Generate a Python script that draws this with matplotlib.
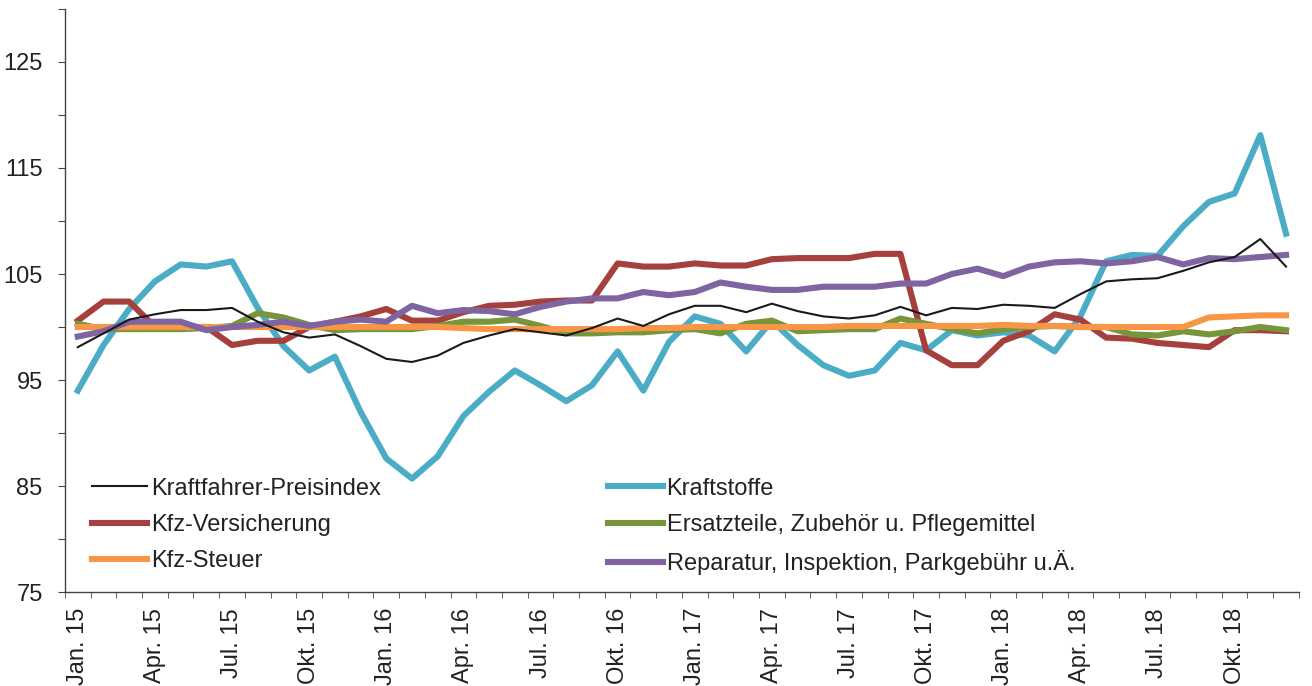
import matplotlib
matplotlib.use("Agg")
import matplotlib.pyplot as plt
import numpy as np

# Monthly index values, Jan 2015 - Dec 2018
month_names = ["Jan.", "Feb.", "Mär.", "Apr.", "Mai", "Jun.", "Jul.", "Aug.", "Sep.", "Okt.", "Nov.", "Dez."]
years = ["15", "16", "17", "18"]
months = [f"{m} {y}" for y in years for m in month_names]

preisindex = [98.1, 99.4, 100.7, 101.2, 101.6, 101.6, 101.8, 100.5, 99.5, 99.0, 99.3, 98.2,
              97.0, 96.7, 97.3, 98.5, 99.2, 99.8, 99.5, 99.2, 99.9, 100.8, 100.1, 101.2,
              102.0, 102.0, 101.4, 102.2, 101.5, 101.0, 100.8, 101.1, 101.9, 101.1, 101.8, 101.7,
              102.1, 102.0, 101.8, 103.1, 104.3, 104.5, 104.6, 105.3, 106.1, 106.6, 108.3, 105.7]
kraftstoffe = [94.0, 98.3, 101.7, 104.3, 105.9, 105.7, 106.2, 101.8, 98.2, 95.9, 97.2, 92.0,
               87.6, 85.7, 87.8, 91.6, 93.9, 95.9, 94.5, 93.0, 94.5, 97.7, 94.0, 98.6,
               101.0, 100.3, 97.7, 100.6, 98.3, 96.4, 95.4, 95.9, 98.5, 97.8, 99.7, 99.2,
               99.5, 99.2, 97.7, 101.0, 106.2, 106.8, 106.7, 109.5, 111.8, 112.6, 118.1, 108.8]
versicherung = [100.6, 102.4, 102.4, 100.0, 100.0, 100.0, 98.3, 98.7, 98.7, 100.0, 100.5, 101.0,
                101.7, 100.6, 100.6, 101.4, 102.0, 102.1, 102.4, 102.5, 102.5, 106.0, 105.7, 105.7,
                106.0, 105.8, 105.8, 106.4, 106.5, 106.5, 106.5, 106.9, 106.9, 97.8, 96.4, 96.4,
                98.7, 99.6, 101.2, 100.7, 99.0, 98.9, 98.5, 98.3, 98.1, 99.7, 99.7, 99.6]
ersatzteile = [100.3, 99.8, 99.8, 99.8, 99.8, 99.9, 100.1, 101.3, 100.9, 100.2, 99.7, 99.8,
               99.8, 99.8, 100.1, 100.5, 100.5, 100.7, 100.1, 99.4, 99.4, 99.5, 99.5, 99.7,
               99.8, 99.4, 100.3, 100.6, 99.6, 99.7, 99.8, 99.8, 100.8, 100.3, 99.8, 99.4,
               99.8, 100.0, 100.1, 100.0, 100.0, 99.3, 99.2, 99.6, 99.3, 99.6, 100.0, 99.7]
steuer = [100.0, 100.0, 100.0, 100.0, 100.0, 100.0, 100.0, 100.0, 100.0, 100.0, 100.0, 100.0,
          100.0, 100.0, 100.0, 99.9, 99.8, 99.8, 99.8, 99.8, 99.8, 99.8, 99.9, 99.9,
          100.0, 100.0, 100.0, 100.0, 100.0, 100.0, 100.1, 100.1, 100.1, 100.1, 100.1, 100.1,
          100.2, 100.1, 100.1, 100.0, 100.0, 100.0, 100.0, 100.0, 100.9, 101.0, 101.1, 101.1]
reparatur = [99.1, 99.6, 100.5, 100.5, 100.5, 99.7, 100.0, 100.2, 100.5, 100.1, 100.5, 100.7,
             100.5, 102.0, 101.3, 101.6, 101.5, 101.2, 101.9, 102.4, 102.7, 102.7, 103.3, 103.0,
             103.3, 104.2, 103.8, 103.5, 103.5, 103.8, 103.8, 103.8, 104.1, 104.1, 105.0, 105.5,
             104.8, 105.7, 106.1, 106.2, 106.0, 106.2, 106.6, 105.9, 106.5, 106.4, 106.6, 106.8]

plt.rcParams["font.family"] = ["Liberation Sans", "DejaVu Sans"]
plt.rcParams["font.size"] = 17

TEXT = "#222222"
AXIS = "#444444"

fig = plt.figure(figsize=(13.12, 6.86), dpi=100)
ax = fig.add_axes([0.0495, 0.137, 0.9405, 0.8499])

x = np.arange(len(months))
wide = 4.4
ax.plot(x, preisindex, color="#1a1a1a", lw=1.5, label="Kraftfahrer-Preisindex", zorder=6)
ax.plot(x, kraftstoffe, color="#4BACC6", lw=wide, label="Kraftstoffe", zorder=2)
ax.plot(x, versicherung, color="#A5403D", lw=wide, label="Kfz-Versicherung", zorder=3)
ax.plot(x, ersatzteile, color="#77953A", lw=wide, label="Ersatzteile, Zubehör u. Pflegemittel", zorder=4)
ax.plot(x, steuer, color="#F79646", lw=wide, label="Kfz-Steuer", zorder=5)
ax.plot(x, reparatur, color="#8064A2", lw=wide, label="Reparatur, Inspektion, Parkgebühr u.Ä.", zorder=5)

ax.set_xlim(-0.5, len(months) - 0.5)
ax.set_ylim(75, 130)

ax.set_yticks(np.arange(75, 131, 5))
ax.set_yticklabels([str(v) if (v - 75) % 10 == 0 else "" for v in range(75, 131, 5)])
ax.set_xticks(x[::3])
ax.set_xticklabels(months[::3], rotation=90)
ax.set_xticks(np.arange(-0.5, len(months), 1), minor=True)
ax.tick_params(axis="x", which="major", length=0, pad=11.5, colors=TEXT)
ax.tick_params(axis="x", which="minor", length=4.5, direction="out", color=AXIS)
ax.tick_params(axis="y", length=5, direction="out", color=AXIS, colors=TEXT, pad=11)

for s in ["top", "right"]:
    ax.spines[s].set_visible(False)
for s in ["left", "bottom"]:
    ax.spines[s].set_color(AXIS)
    ax.spines[s].set_linewidth(1.0)

handles, labels = ax.get_legend_handles_labels()
order = [0, 2, 4, 1, 3, 5]
leg = ax.legend([handles[i] for i in order], [labels[i] for i in order],
                ncol=2, loc="upper left", bbox_to_anchor=(0.0219, 0.196),
                frameon=False, handlelength=2.33, handletextpad=0.17,
                columnspacing=9.6, labelspacing=0.6, borderpad=0,
                borderaxespad=0)
for t in leg.get_texts():
    t.set_color(TEXT)

fig.savefig("out.png", dpi=100)
